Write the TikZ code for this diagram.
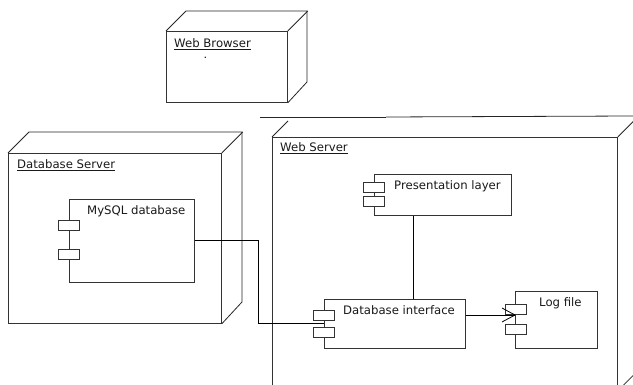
\documentclass[tikz,border=0pt]{standalone}
\usepackage{fontspec}
\setmainfont{DejaVu Sans}
\begin{document}
\begin{tikzpicture}[x=1pt,y=-1pt,
  edge/.style={draw=black!85, line width=0.8pt},
  face/.style={draw=black!80, line width=0.8pt, rectangle, inner sep=0pt, anchor=north west},
  comp/.style={draw=black!80, line width=0.8pt, rectangle, inner sep=0pt, anchor=north west, fill=white},
  port/.style={draw=black!80, line width=0.8pt, rectangle, fill=white, inner sep=0pt, minimum width=21pt, minimum height=10pt, anchor=north west},
  txt/.style={anchor=base west, inner sep=0pt, font=\fontsize{11.7}{13}\selectfont, text=black!90},
  conn/.style={draw=black, line width=0.8pt}]
\useasboundingbox (0,0) rectangle (633,385);
\clip (0,0) rectangle (633,385);

% Web Browser node
\node[face, minimum width=121pt, minimum height=71pt] (wb) at (166,31) {};
\draw[edge] (wb.north west) -- ++(20,-20) -- ++(121,0) -- ++(0,71) -- (wb.south east);
\draw[edge] (wb.north east) -- ++(20,-20);
\node[txt] (wbl) at (174,48) {\underline{Web Browser}};
\node[anchor=base west, inner sep=0pt, font=\fontsize{7}{8}\bfseries, text=black!90] (wbdot) at (204,58.5) {.};

% Database Server node
\node[face, minimum width=213pt, minimum height=170pt] (dbs) at (8,153) {};
\draw[edge] (dbs.north west) -- ++(21,-21) -- ++(213,0) -- ++(0,170) -- (dbs.south east);
\draw[edge] (dbs.north east) -- ++(21,-21);
\node[txt] (dbsl) at (17,169) {\underline{Database Server}};

% Web Server node
\node[face, minimum width=345pt, minimum height=253pt] (ws) at (272,137) {};
\draw[edge] (ws.north west) -- ++(16,-16);
\draw[edge] (ws.north east) -- ++(16,-16);
\draw[edge] (ws.south east) -- ++(16,-16);
\coordinate (tl1) at (260,117);
\coordinate (tl2) at (386,117);
\coordinate (tl3) at (633,116);
\draw[edge] (tl1) -- (tl2);
\draw[edge] (tl2) -- (tl3);
\node[txt] (wsl) at (280,152) {\underline{Web Server}};

% MySQL database component
\node[comp, minimum width=125pt, minimum height=83pt] (mysql) at (69,199) {};
\node[port] (mp1) at (58,220) {};
\node[port] (mp2) at (58,249) {};
\node[txt] (mysqll) at (87,215) {MySQL database};

% Presentation layer component
\node[comp, minimum width=137pt, minimum height=41pt] (pres) at (374,174) {};
\node[port] (pp1) at (363,182) {};
\node[port] (pp2) at (363,196) {};
\node[txt] (presl) at (394,190) {Presentation layer};

% Database interface component
\node[comp, minimum width=141pt, minimum height=49pt] (dbi) at (324,299) {};
\node[txt] (dbil) at (343,315) {Database interface};

% Log file component
\node[comp, minimum width=82pt, minimum height=57pt] (log) at (515,291) {};
\node[txt] (logl) at (539,307) {Log file};

% connectors
\coordinate (bx) at (258,0);
\coordinate (lx) at (413,0);
\coordinate (ay) at (0,315);
\draw[conn] (mysql.east) -- (mysql.east -| bx) |- (dbi.west);
\draw[conn] (pres.south -| lx) -- (dbi.north -| lx);

% ports of database interface and log file (on top of connectors)
\node[port] (dp1) at (313,310) {};
\node[port] (dp2) at (313,327) {};
\node[port] (lp1) at (505,304) {};
\node[port] (lp2) at (505,324) {};

% dependency arrow with open barbed head
\draw[conn] (dbi.east |- ay) -- (log.west |- ay);
\draw[conn] (log.west |- ay) -- ++(-13,-7);
\draw[conn] (log.west |- ay) -- ++(-13,7);
\end{tikzpicture}
\end{document}
